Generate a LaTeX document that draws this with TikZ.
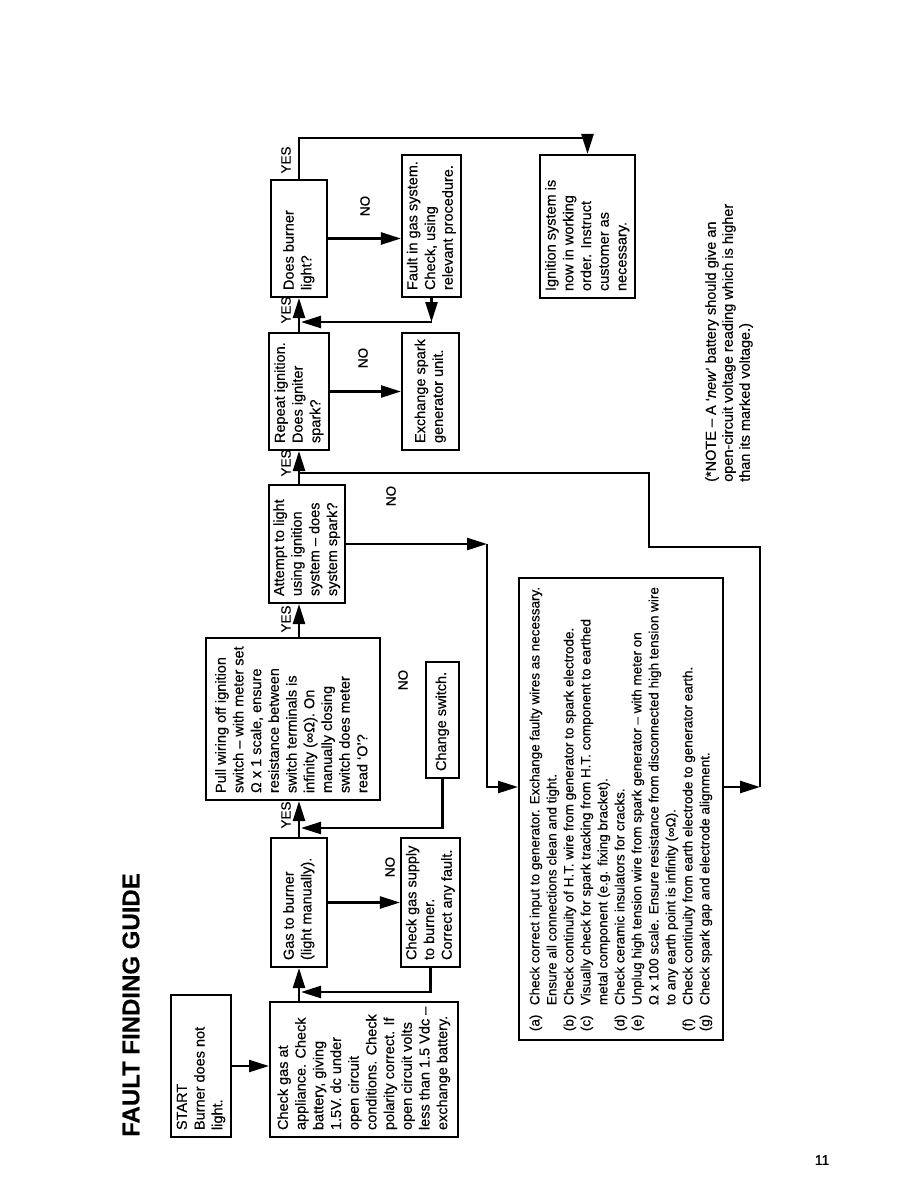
\documentclass[tikz,border=0pt]{standalone}
\usepackage{fontspec}
\setmainfont{Liberation Sans}[FakeBold=0.35]
\usetikzlibrary{arrows.meta,calc}
\newcommand{\lbx}[2]{\makebox[#1][l]{\begin{tabular}{@{}l@{}}#2\end{tabular}}}
\begin{document}
\begin{tikzpicture}[x=1pt,y=1pt,
  box/.style={draw, line width=2pt, inner xsep=7pt, inner ysep=3pt, align=left, font=\fontsize{14.5}{17.7}\selectfont},
  arr/.style={line width=2.4pt, -{Triangle[length=20pt,width=12pt]}},
  ln/.style={line width=2.4pt},
  lab/.style={font=\fontsize{13.5}{15}\selectfont, inner sep=0pt}]
\fill[white] (0,0) rectangle (918,-1188);
\useasboundingbox (0,0) rectangle (918,-1188);
\begin{scope}[shift={(918,-1188)}, rotate=90, transform shape]
\node[anchor=west, font=\fontsize{24}{28}\selectfont\bfseries, inner sep=0pt] (title) at (51,787) {FAULT FINDING GUIDE};
\coordinate (col) at (0,619);
\node[box, minimum height=58] (start) at (122,717) {\lbx{128pt}{START\\Burner does not\\light.}};
\node[box, minimum height=188] (A) at (118.5,554) {\lbx{121pt}{Check gas at\\appliance. Check\\battery, giving\\1.5V. dc under\\open circuit\\conditions. Check\\polarity correct. If\\open circuit volts\\less than 1.5 Vdc –\\exchange battery.}};
\node[box, minimum height=56] (B) at (285.5,619) {\lbx{115pt}{Gas to burner\\(light manually).}};
\node[box, minimum height=55] (C) at (285.5,487.5) {\lbx{115pt}{Check gas supply\\to burner.\\Correct any fault.}};
\node[box, minimum height=174] (D) at (469,625) {\lbx{148pt}{Pull wiring off ignition\\switch – with meter set\\Ω x 1 scale, ensure\\resistance between\\switch terminals is\\infinity (∞Ω). On\\manually closing\\switch does meter\\read ‘O’?}};
\node[box, minimum height=33] (E) at (468,475.5) {\lbx{102pt}{Change switch.}};
\node[box, minimum height=72] (F) at (644,611) {\lbx{104pt}{Attempt to light\\using ignition\\system – does\\system spark?}};
\node[box, minimum width=462, minimum height=204, font=\fontsize{13.5}{17}\selectfont] (G) at (379,297) {\begin{tabular}{@{}p{26pt}@{}l@{}}
(a) & Check correct input to generator. Exchange faulty wires as necessary.\\
 & Ensure all connections clean and tight.\\
(b) & Check continuity of H.T. wire from generator to spark electrode.\\
(c) & Visually check for spark tracking from H.T. component to earthed\\
 & metal component (e.g. fixing bracket).\\
(d) & Check ceramic insulators for cracks.\\
(e) & Unplug high tension wire from spark generator – with meter on\\
 & Ω x 100 scale. Ensure resistance from disconnected high tension wire\\
 & to any earth point is infinity (∞Ω).\\
(f) & Check continuity from earth electrode to generator earth.\\
(g) & Check spark gap and electrode alignment.
\end{tabular}};
\node[box, minimum height=56] (H) at (796.5,619) {\lbx{103pt}{Repeat ignition.\\Does igniter\\spark?}};
\node[box, minimum height=57] (I) at (796.5,487.5) {\lbx{103pt}{Exchange spark\\generator unit.}};
\node[box, minimum height=56] (J) at (949.5,619) {\lbx{103pt}{Does burner\\light?}};
\node[box, minimum height=55] (K) at (962,486.5) {\lbx{128pt}{Fault in gas system.\\Check, using\\relevant procedure.}};
\node[box, minimum height=89] (L) at (961.5,330.5) {\lbx{129pt}{Ignition system is\\now in working\\order. Instruct\\customer as\\necessary.}};
\node[anchor=west, align=left, inner sep=0pt, font=\fontsize{14.5}{17}\selectfont] (note) at (706,189) {(*NOTE – A ‘\textit{new}’ battery should give an\\open-circuit voltage reading which is higher\\than its marked voltage.)};
% labels
\node[lab] (y1) at (373,632) {YES};
\node[lab] (y2) at (569,632) {YES};
\node[lab] (y3) at (725,632) {YES};
\node[lab] (y4) at (878,632) {YES};
\node[lab] (y5) at (1028,632) {YES};
\node[lab] (n1) at (321,528) {NO};
\node[lab] (n2) at (508,515) {NO};
\node[lab] (n3) at (692,527) {NO};
\node[lab] (n4) at (830,555) {NO};
\node[lab] (n5) at (982,553) {NO};
% connectors
\draw[arr] (start.south) -- (start.south |- A.north);
\draw[arr] (A.east |- col) -- (B.west |- col);
\draw[arr] (B.south) -- (C.north);
\coordinate (cret) at (196,617);
\draw[arr] (C.west) -| (cret);
\draw[arr] (B.east |- col) -- (D.west |- col);
\coordinate (eret) at (360,617);
\draw[arr] (E.west) -| (eret);
\draw[arr] (D.east |- col) -- (F.west |- col);
\coordinate (fg) at (644,431);
\coordinate (gin) at (401,431);
\draw[arr] (F.south) -- (fg);
\draw[arr] (fg) -- (gin) -- (gin |- G.north);
\coordinate (gout) at (401,158);
\coordinate (w1) at (641,158);
\coordinate (w2) at (641,269);
\coordinate (w3) at (715,269);
\coordinate (w4) at (715,619);
\draw[arr] (G.south -| gout) -- (gout);
\draw[ln] (gout) -- (w1) -- (w2) -- (w3) -- (w4);
\draw[arr] (F.east |- col) -- (H.west |- col);
\draw[arr] (H.south) -- (I.north);
\draw[arr] (H.east |- col) -- (J.west |- col);
\draw[arr] (J.south) -- (J.south |- K.north);
\coordinate (kret) at (866,486.5);
\draw[arr] (K.west) -- (kret);
\draw[arr] (kret) -- (866,617);
\coordinate (top) at (1050,0);
\draw[arr] (J.east) -- (J.east -| top) -- (top |- L.east) -- (L.east);
\end{scope}
\node[font=\fontsize{14}{16}\selectfont] (pg) at (822,-1160) {11};
\end{tikzpicture}
\end{document}
